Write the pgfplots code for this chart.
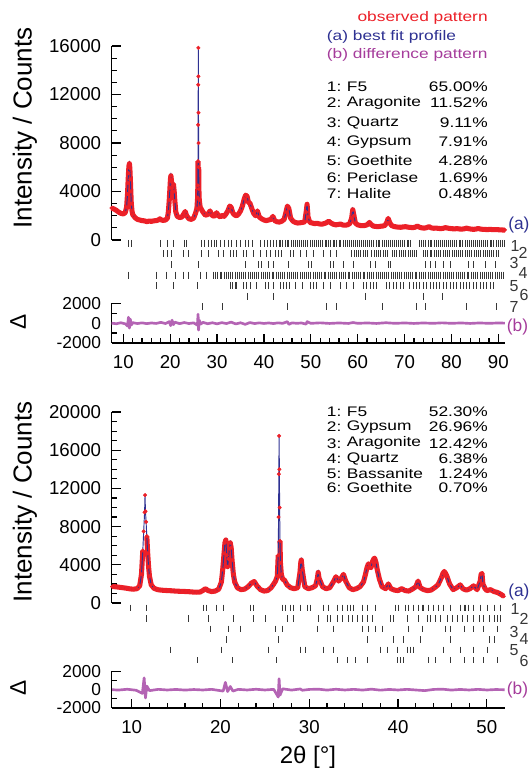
\documentclass[border=0pt]{standalone}
\usepackage{fontspec}
\setmainfont{Liberation Sans}
\usepackage{pgfplots}
\usepackage{pgfplotstable}
\pgfplotsset{compat=1.18}
\definecolor{obsred}{RGB}{236,32,40}
\definecolor{fitblue}{RGB}{46,49,146}
\definecolor{diffpurple}{RGB}{180,100,180}
\definecolor{labpurple}{RGB}{165,60,155}
\definecolor{reflgray}{RGB}{55,55,55}

% top sample: observed intensity
\pgfplotstableread{
x y
7.5 2640
8.0 2560
8.5 2450
9.0 2300
9.5 2200
10.0 2150
10.4 2250
10.7 2700
10.9 3800
11.0 4700
11.1 5500
11.2 6100
11.3 6300
11.4 5900
11.5 5000
11.6 4000
11.7 3000
11.85 2400
12.0 2100
12.5 1850
13.0 1700
13.5 1650
14.0 1600
14.5 1580
15.0 1520
15.5 1560
16.0 1540
16.5 1580
17.0 1600
17.5 1650
17.8 1750
18.1 1650
18.5 1620
19.0 1650
19.4 1800
19.6 2300
19.8 3300
19.95 4300
20.05 5000
20.15 5300
20.3 4800
20.45 4300
20.6 4500
20.7 4600
20.85 4000
21.0 3200
21.2 2300
21.5 1950
22.0 1850
22.5 1900
22.9 2150
23.2 2350
23.5 2000
24.0 1750
24.5 1700
25.0 1800
25.4 2200
25.7 2600
25.85 3500
25.9 4500
25.93 6500
25.96 9500
25.98 12800
26.0 15850
26.02 13500
26.04 10500
26.06 8000
26.08 6000
26.12 4200
26.2 3300
26.4 2700
26.7 2500
27.0 2300
27.5 2050
28.0 2100
28.5 2400
28.9 2050
29.3 1950
29.6 2050
29.9 2250
30.3 2000
30.7 1900
31.1 2050
31.5 1950
31.9 2150
32.3 2400
32.7 2800
33.0 2700
33.4 2200
33.8 2050
34.2 2000
34.6 2150
35.0 2400
35.4 2800
35.8 3400
36.1 3700
36.4 3600
36.7 3100
37.0 3050
37.4 2600
37.8 2200
38.2 2000
38.6 2400
39.0 1900
39.5 1750
40.0 1650
40.5 1600
41.0 1650
41.5 1700
41.9 1950
42.3 1600
42.8 1500
43.3 1480
43.8 1550
44.3 1700
44.7 2300
45.0 2800
45.3 2600
45.7 1800
46.2 1550
46.7 1450
47.2 1400
47.7 1420
48.2 1450
48.7 1500
49.0 2300
49.2 2950
49.4 1900
49.8 1450
50.3 1400
50.8 1350
51.3 1380
51.8 1330
52.3 1300
52.8 1350
53.3 1420
53.8 1550
54.3 1400
54.8 1300
55.3 1250
55.8 1280
56.3 1320
56.8 1240
57.3 1220
57.8 1250
58.3 1350
58.7 1800
58.95 2500
59.2 2000
59.5 1400
60.0 1250
60.5 1200
61.0 1180
61.5 1200
62.0 1250
62.5 1450
62.8 1300
63.3 1150
63.8 1120
64.3 1100
64.8 1130
65.3 1150
65.8 1200
66.2 1450
66.5 1780
66.8 1450
67.2 1200
67.7 1120
68.2 1080
68.7 1060
69.2 1050
69.7 1080
70.2 1100
70.7 1060
71.2 1040
71.7 1020
72.2 1050
72.7 1150
73.2 1050
73.7 1000
74.2 980
74.7 1020
75.2 1100
75.7 1000
76.2 970
76.7 980
77.2 960
77.7 940
78.2 960
78.7 1020
79.2 980
79.7 950
80.2 930
80.7 920
81.2 940
81.7 910
82.2 900
82.7 920
83.2 980
83.7 930
84.2 900
84.7 880
85.2 900
85.7 950
86.2 900
86.7 880
87.2 870
87.7 860
88.2 880
88.7 860
89.2 850
89.7 860
90.2 840
90.7 830
91.2 820
91.4 830
}\topobs

% top sample: observed minus calculated
\pgfplotstableread{
x y
7.5 0
8.5 -60
9.5 40
10.5 -80
10.9 -300
11.1 600
11.3 -500
11.5 400
11.7 -200
12.0 50
13 -40
14 30
15 -50
16 20
17 -30
18 80
19 -40
19.8 150
20.1 -250
20.4 300
20.7 -150
21.0 100
22 -50
23 60
24 -40
25 30
25.8 -200
25.95 900
26.05 -700
26.2 300
26.5 -100
27 80
28 -60
29 40
30 -70
31 50
32 -40
33 100
34 -80
35 40
36 -120
37 60
38 -40
39 30
40 -30
41 20
42 -40
43 30
44 -20
45 150
45.3 -120
46 30
47 -20
48 20
49 -100
49.2 150
50 -20
52 30
54 -30
56 20
58 -30
59 60
60 -20
62 20
64 -30
66 40
68 -20
70 20
72 -30
74 20
76 -20
78 30
80 -20
82 20
84 -30
86 20
88 -20
90 20
91.4 0
}\topdiff

% bottom sample: observed intensity
\pgfplotstableread{
x y
7.8 1720
8.2 1700
8.6 1650
9.0 1600
9.4 1550
9.8 1480
10.2 1450
10.6 1500
10.9 1800
11.1 3000
11.25 5500
11.35 7500
11.45 9500
11.5 11300
11.55 9600
11.62 8500
11.7 7000
11.8 5200
11.9 3800
12.0 2800
12.2 1900
12.5 1550
12.9 1400
13.3 1350
13.7 1320
14.1 1300
14.5 1280
14.9 1250
15.3 1230
15.7 1220
16.1 1200
16.5 1180
16.9 1150
17.3 1130
17.7 1150
18.0 1300
18.3 1500
18.6 1300
19.0 1200
19.4 1250
19.8 1450
20.1 2200
20.25 3500
20.4 5200
20.5 6300
20.6 6600
20.7 5000
20.8 3800
20.9 4600
21.0 5700
21.1 6300
21.2 5800
21.3 4500
21.45 3000
21.6 2200
21.9 1600
22.3 1400
22.7 1450
23.1 1700
23.5 2100
23.8 2250
24.1 1800
24.5 1400
24.9 1250
25.3 1300
25.7 1600
26.0 2000
26.2 2300
26.4 2800
26.5 5000
26.54 9000
26.57 13500
26.6 17500
26.63 14000
26.66 10000
26.7 6500
26.75 4200
26.85 3000
27.0 2500
27.2 2400
27.5 1900
27.9 1600
28.3 1500
28.7 1600
28.95 3200
29.05 4300
29.1 4500
29.2 3500
29.5 1700
29.9 1500
30.3 1600
30.7 1800
30.9 2500
31.0 3200
31.1 2600
31.5 1700
31.9 1500
32.3 1600
32.7 2200
33.0 2750
33.3 2300
33.6 2600
33.85 3000
34.1 2300
34.5 1600
34.9 1400
35.3 1500
35.7 1700
36.1 2200
36.3 2900
36.5 3700
36.65 4100
36.8 3800
36.95 3700
37.1 4300
37.25 4600
37.35 4700
37.5 4300
37.65 3500
37.9 2500
38.2 1700
38.6 1500
38.9 2000
39.2 1500
39.6 1350
40.0 1300
40.4 1500
40.8 1300
41.2 1250
41.6 1450
42.0 1700
42.25 2300
42.5 1600
42.9 1400
43.3 1300
43.7 1350
44.1 1600
44.5 1900
44.9 2700
45.05 3100
45.2 3300
45.35 3100
45.5 2800
45.8 2000
46.2 1400
46.6 1600
47.0 1900
47.3 1500
47.7 1350
48.1 1500
48.5 1800
48.9 1400
49.25 2300
49.35 3000
49.45 3100
49.55 2000
49.8 1500
50.0 1300
50.4 1400
50.8 1200
51.2 1100
51.6 900
51.9 700
}\botobs

% bottom sample: observed minus calculated
\pgfplotstableread{
x y
7.8 0
8.5 -40
9.5 50
10.5 -60
11.2 -400
11.4 1300
11.55 -900
11.7 400
12.0 -100
13 40
14 -30
15 30
16 -40
17 20
18 -30
19 40
20.3 -150
20.55 800
20.8 -200
21.1 350
21.4 -150
22 40
23 -30
24 50
25 -30
26 40
26.5 -800
26.6 1200
26.7 -600
27 100
28 -40
29 80
29.2 -60
30 30
31 60
32 -40
33 50
34 -30
35 40
36 -40
37 60
38 -50
39 30
40 -30
41 40
42 -30
43 -100
44 30
45 60
46 -40
47 30
48 -30
49 40
50 -30
51 20
52 0
}\botdiff

\pgfplotsset{
  xrd/.style={scale only axis, width=295pt, anchor=south west, clip=false,
    axis line style={line width=1.1pt},
    every tick/.style={black, line width=0.9pt},
    major tick length=7pt, minor tick length=4pt, tick align=inside,
    /pgf/number format/assume math mode=true,
    /pgf/number format/1000 sep={},
    scaled ticks=false,
    tick label style={font=\fontsize{14}{16}\selectfont},
    yticklabel style={xshift=-4.5pt}},
  mainpanel/.style={xrd, axis y line*=left, axis x line=none, ymin=0,
    minor y tick num=3},
  diffpanel/.style={xrd, axis y line*=left, axis x line*=bottom,
    ymin=-2000, ymax=2000, ytick={-2000,0,2000}, minor y tick num=1,
    minor x tick num=4,
    yticklabel style={font=\fontsize{13}{15}\selectfont},
    xticklabel style={yshift=-6pt}},
  reflpanel/.style={scale only axis, width=295pt, anchor=south west,
    hide axis, clip=false, y dir=reverse, ymin=0},
  refl/.style={only marks, mark=|, mark size=2.6pt, reflgray,
    mark options={line width=0.55pt}},
}

\begin{document}
\begin{tikzpicture}
\useasboundingbox (0,0) rectangle (397.5pt,-576.75pt);

% ---------------- top sample ----------------
\begin{axis}[mainpanel, at={(83.8pt,-180pt)}, height=145.5pt,
  xmin=7.53, xmax=91.43, ymax=16000, ytick={0,4000,...,16000}]
\addplot[obsred, line width=3.8pt, line join=round,
  restrict y to domain=-1000:7000] table {\topobs};
\addplot[obsred, only marks, mark=*, mark size=1.3pt] table {\topobs};
\addplot[fitblue, line width=0.7pt] table {\topobs};
\end{axis}

\begin{axis}[reflpanel, at={(83.8pt,-238.1pt)}, height=63.6pt,
  xmin=7.53, xmax=91.43, ymax=8]
\addplot[refl] coordinates {
(11.07,1)(11.64,1)(17.82,1)(19.39,1)(20.67,1)(22.94,1)(23.37,1)(26.71,1)(27.21,1)
(28.13,1)(28.84,1)(29.34,1)(29.77,1)(30.62,1)(31.48,1)(32.4,1)(33.11,1)(34.18,1)
(34.89,1)(35.96,1)(36.67,1)(37.59,1)(39.16,1)(40.0,1)(40.72,1)(41.43,1)(42.0,1)
(42.7,1)(43.2,1)(43.6,1)(44.0,1)(44.5,1)(45.0,1)(45.3,1)(45.8,1)(46.2,1)(46.7,1)
(47.1,1)(47.6,1)(48.0,1)(48.4,1)(48.9,1)(49.3,1)(49.9,1)(50.3,1)(50.7,1)(51.2,1)
(51.6,1)(52.1,1)(52.5,1)(53.0,1)(53.3,1)(53.8,1)(54.2,1)(54.7,1)(55.1,1)(55.5,1)
(56.0,1)(56.4,1)(56.9,1)(57.3,1)(57.8,1)(58.2,1)(58.6,1)(59.1,1)(59.5,1)(60.0,1)
(60.3,1)(60.8,1)(61.2,1)(61.7,1)(62.1,1)(62.5,1)(63.0,1)(63.4,1)(63.9,1)(64.3,1)
(64.7,1)(65.2,1)(65.6,1)(66.1,1)(66.5,1)(66.9,1)(67.4,1)(67.8,1)(68.3,1)(68.7,1)
(69.1,1)(69.6,1)(70.0,1)(70.5,1)(70.9,1)(71.3,1)(73.2,1)(73.6,1)(74.1,1)(74.5,1)
(75.0,1)(75.4,1)(75.8,1)(76.3,1)(76.7,1)(77.2,1)(77.6,1)(78.0,1)(78.5,1)(78.9,1)
(79.4,1)(79.8,1)(80.2,1)(80.7,1)(81.1,1)(81.6,1)(82.0,1)(82.4,1)(82.9,1)(83.3,1)
(83.8,1)(84.2,1)(84.6,1)(85.1,1)(85.5,1)(86.0,1)(86.4,1)(86.8,1)(87.3,1)(87.7,1)
(88.2,1)(88.6,1)(89.0,1)(89.5,1)(89.9,1)(90.4,1)(90.8,1)(91.2,1)
};
\addplot[refl] coordinates {
(18.53,2)(19.39,2)(20.31,2)(22.8,2)(23.87,2)(26.71,2)(28.13,2)(30.27,2)(31.33,2)
(32.76,2)(33.47,2)(34.18,2)(35.6,2)(36.31,2)(37.73,2)(39.16,2)(40.58,2)(41.29,2)
(42.36,2)(43.07,2)(43.78,2)(45.56,2)(46.27,2)(47.69,2)(49.11,2)(50.53,2)(52.67,2)
(54.09,2)(55.51,2)(58.7,2)(59.2,2)(59.7,2)(60.1,2)(60.6,2)(61.1,2)(61.6,2)(62.0,2)
(63.0,2)(63.5,2)(64.0,2)(64.4,2)(64.9,2)(65.4,2)(65.8,2)(66.3,2)(67.4,2)(67.9,2)
(68.3,2)(68.8,2)(69.3,2)(69.7,2)(70.2,2)(70.7,2)(71.2,2)(71.6,2)(72.1,2)(72.5,2)
(74.0,2)(74.4,2)(74.9,2)(75.4,2)(75.8,2)(76.3,2)(76.8,2)(77.3,2)(77.7,2)(78.2,2)
(78.7,2)(79.1,2)(79.6,2)(80.1,2)(80.6,2)(81.0,2)(81.5,2)(82.0,2)(82.4,2)(82.9,2)
(83.4,2)(83.9,2)(84.3,2)(84.8,2)(85.3,2)(85.7,2)(86.2,2)(86.7,2)(87.2,2)(87.6,2)
(88.1,2)(88.6,2)(89.0,2)(89.5,2)(90.0,2)
};
\addplot[refl] coordinates {
(20.31,3)(26.0,3)(35.96,3)(38.8,3)(39.51,3)(40.93,3)(42.0,3)(45.2,3)(49.47,3)
(50.18,3)(54.09,3)(54.8,3)(56.93,3)(59.07,3)(62.62,3)(63.69,3)(66.53,3)(66.89,3)
(74.36,3)(75.42,3)(76.49,3)(78.27,3)(79.69,3)(83.6,3)(84.67,3)(87.16,3)(89.29,3)
};
\addplot[refl] coordinates {
(11.07,4)(17.11,4)(19.24,4)(21.02,4)(22.8,4)(23.87,4)(26.36,4)(27.78,4)(29.2,4)
(29.6,4)(30.1,4)(30.6,4)(31.0,4)(31.5,4)(32.0,4)(32.4,4)(32.9,4)(33.3,4)(33.8,4)
(34.3,4)(34.7,4)(35.2,4)(35.7,4)(36.1,4)(36.6,4)(37.0,4)(37.5,4)(38.0,4)(38.4,4)
(38.9,4)(39.4,4)(39.8,4)(40.3,4)(40.7,4)(41.2,4)(41.7,4)(42.1,4)(42.6,4)(43.1,4)
(43.5,4)(44.0,4)(44.4,4)(44.9,4)(45.4,4)(45.8,4)(46.3,4)(46.8,4)(47.2,4)(47.7,4)
(48.1,4)(48.6,4)(49.1,4)(49.5,4)(50.0,4)(50.5,4)(50.9,4)(51.4,4)(51.8,4)(52.3,4)
(52.8,4)(53.2,4)(53.7,4)(54.2,4)(54.6,4)(55.1,4)(55.5,4)(56.0,4)(56.5,4)(56.9,4)
(57.4,4)(57.9,4)(58.3,4)(58.8,4)(59.2,4)(59.7,4)(60.2,4)(60.6,4)(61.1,4)(61.5,4)
(62.0,4)(62.5,4)(62.9,4)(63.4,4)(63.9,4)(64.3,4)(64.8,4)(65.2,4)(65.7,4)(66.2,4)
(66.6,4)(67.1,4)(67.6,4)(68.0,4)(68.5,4)(68.9,4)(69.4,4)(69.9,4)(70.3,4)(70.8,4)
(71.3,4)(71.7,4)(72.2,4)(72.6,4)(73.1,4)(73.6,4)(74.0,4)(74.5,4)(75.0,4)(75.4,4)
(75.9,4)(76.3,4)(76.8,4)(77.3,4)(77.7,4)(78.2,4)(78.7,4)(79.1,4)(79.6,4)(80.0,4)
(80.5,4)(81.0,4)(81.4,4)(81.9,4)(82.4,4)(82.8,4)(83.3,4)(83.7,4)(84.2,4)(84.7,4)
(85.1,4)(85.6,4)(86.1,4)(86.5,4)(87.0,4)(87.4,4)(87.9,4)(88.4,4)(88.8,4)(89.3,4)
(89.8,4)(90.2,4)(90.7,4)(91.1,4)
};
\addplot[refl] coordinates {
(17.11,5)(20.67,5)(25.79,5)(32.76,5)(33.3,5)(33.8,5)(34.18,5)(35.6,5)(36.3,5)
(37.0,5)(38.4,5)(40.2,5)(40.9,5)(42.0,5)(43.4,5)(44.1,5)(44.8,5)(45.5,5)(46.6,5)
(48.1,5)(49.8,5)(50.5,5)(51.2,5)(52.6,5)(54.1,5)(56.2,5)(57.6,5)(59.1,5)(61.2,5)
(61.9,5)(62.6,5)(63.3,5)(64.0,5)(66.1,5)(66.8,5)(67.5,5)(68.2,5)(69.0,5)(69.7,5)
(71.1,5)(71.8,5)(72.5,5)(73.2,5)(74.0,5)(74.7,5)(75.4,5)(76.1,5)(76.8,5)(77.5,5)
(78.2,5)(78.9,5)(79.7,5)(80.4,5)(81.1,5)(81.8,5)(82.5,5)(83.2,5)(83.9,5)(84.6,5)
(85.4,5)(86.1,5)(86.8,5)(87.5,5)(88.2,5)(89.0,5)
};
\addplot[refl] coordinates {
(36.45,6)(42.0,6)(61.56,6)(74.0,6)(78.12,6)
};
\addplot[refl] coordinates {
(26.92,7)(31.19,7)(44.99,7)(53.24,7)(55.51,7)(65.33,7)(72.58,7)(74.36,7)(83.1,7)
(89.64,7)
};
\end{axis}

\begin{axis}[diffpanel, at={(83.8pt,-257.25pt)}, height=29.8pt,
  xmin=7.53, xmax=91.43, xtick={10,20,...,90}]
\addplot[diffpurple, line width=2pt, line join=round] table {\topdiff};
\end{axis}

% ---------------- bottom sample ----------------
\begin{axis}[mainpanel, at={(83.8pt,-452.25pt)}, height=143.25pt,
  xmin=7.75, xmax=52.05, ymax=20000, ytick={0,4000,...,20000}]
\addplot[obsred, line width=3.8pt, line join=round,
  restrict y to domain=-1000:7000] table {\botobs};
\addplot[obsred, only marks, mark=*, mark size=1.3pt] table {\botobs};
\addplot[fitblue, line width=0.7pt] table {\botobs};
\end{axis}

\begin{axis}[reflpanel, at={(83.8pt,-503pt)}, height=54.9pt,
  xmin=7.75, xmax=52.05, ymax=7]
\addplot[refl, mark size=2.4pt] coordinates {
(9.81,1)(11.62,1)(18.08,1)(18.46,1)(19.59,1)(20.34,1)(23.35,1)(23.72,1)(26.92,1)
(27.29,1)(27.86,1)(28.23,1)(28.98,1)(29.74,1)(30.11,1)(31.62,1)(32.18,1)(33.12,1)
(33.68,1)(34.25,1)(34.62,1)(35.0,1)(35.94,1)(36.5,1)(37.44,1)(39.7,1)(40.08,1)
(40.83,1)(41.2,1)(41.77,1)(42.33,1)(42.71,1)(42.89,1)(43.46,1)(44.02,1)(44.59,1)
(45.15,1)(45.9,1)(47.03,1)(47.41,1)(47.59,1)(47.97,1)(48.53,1)(49.29,1)(50.04,1)
(50.79,1)(51.54,1)
};
\addplot[refl, mark size=2.4pt] coordinates {
(11.62,2)(16.39,2)(18.65,2)(21.47,2)(23.72,2)(25.04,2)(27.48,2)(28.23,2)(31.05,2)
(31.99,2)(32.37,2)(33.12,2)(33.68,2)(34.44,2)(34.81,2)(35.38,2)(35.94,2)(36.5,2)
(37.07,2)(39.14,2)(39.51,2)(41.02,2)(42.33,2)(43.27,2)(43.65,2)(44.21,2)(44.77,2)
(45.53,2)(46.09,2)(46.65,2)(47.22,2)(47.78,2)(48.53,2)(49.1,2)(49.66,2)(50.23,2)
(50.79,2)(51.17,2)(51.54,2)
};
\addplot[refl, mark size=2.4pt] coordinates {
(18.83,3)(20.9,3)(22.22,3)(26.17,3)(26.92,3)(30.86,3)(32.74,3)(35.94,3)(36.69,3)
(37.44,3)(38.2,3)(41.2,3)(42.71,3)(45.34,3)(45.9,3)(47.41,3)(48.53,3)(49.66,3)
(51.17,3)
};
\addplot[refl, mark size=2.4pt] coordinates {
(20.71,4)(26.54,4)(36.5,4)(39.51,4)(40.64,4)(42.52,4)(45.9,4)(50.23,4)(50.79,4)
};
\addplot[refl, mark size=2.4pt] coordinates {
(14.32,5)(20.15,5)(25.41,5)(28.98,5)(29.55,5)(31.62,5)(32.74,5)(38.01,5)(38.76,5)
(39.89,5)(41.02,5)(41.39,5)(41.77,5)(45.15,5)(47.03,5)(48.53,5)(50.04,5)
};
\addplot[refl, mark size=2.4pt] coordinates {
(17.41,6)(21.28,6)(26.28,6)(33.12,6)(34.25,6)(35.19,6)(36.5,6)(39.89,6)(40.26,6)
(40.64,6)(43.46,6)(44.21,6)(45.9,6)(47.41,6)(48.53,6)(49.66,6)(51.17,6)
};
\end{axis}

\begin{axis}[diffpanel, at={(83.8pt,-531pt)}, height=27.45pt,
  xmin=7.75, xmax=52.05, xtick={10,20,...,50}]
\addplot[diffpurple, line width=2pt, line join=round] table {\botdiff};
\end{axis}

% ---------------- labels ----------------
\node[rotate=90, font=\fontsize{19.5}{22}\selectfont] at (18.75pt,-96pt) {Intensity / Counts};
\node[rotate=90, font=\fontsize{19.5}{22}\selectfont] at (18.75pt,-376.5pt) {Intensity / Counts};
\node[rotate=90, font=\fontsize{17}{19}\selectfont] at (13.5pt,-241.5pt) {Δ};
\node[rotate=90, font=\fontsize{17}{19}\selectfont] at (13.5pt,-516pt) {Δ};
\node[font=\fontsize{18}{20}\selectfont] at (231pt,-567.75pt) {2θ [°]};

\begin{scope}[every node/.style={inner sep=0pt, yscale=0.8,
    font=\fontsize{13}{15}\selectfont}]
\node[anchor=west, text=obsred] at (268pt,-13.75pt) {observed pattern};
\node[anchor=west, text=fitblue] at (245pt,-27.5pt) {(a) best fit profile};
\node[anchor=west, text=labpurple] at (245pt,-41.25pt) {(b) difference pattern};

\node[anchor=west] at (245pt,-65.3pt) {1:};  \node[anchor=west] at (260pt,-65.3pt) {F5};        \node[anchor=east] at (366pt,-65.3pt) {65.00\%};
\node[anchor=west] at (245pt,-77.3pt) {2:};  \node[anchor=west] at (260pt,-77.3pt) {Aragonite}; \node[anchor=east] at (366pt,-77.3pt) {11.52\%};
\node[anchor=west] at (245pt,-92.3pt) {3:};  \node[anchor=west] at (260pt,-92.3pt) {Quartz};    \node[anchor=east] at (366pt,-92.3pt) {9.11\%};
\node[anchor=west] at (245pt,-106.2pt) {4:}; \node[anchor=west] at (260pt,-106.2pt) {Gypsum};   \node[anchor=east] at (366pt,-106.2pt) {7.91\%};
\node[anchor=west] at (245pt,-120.5pt) {5:}; \node[anchor=west] at (260pt,-120.5pt) {Goethite}; \node[anchor=east] at (366pt,-120.5pt) {4.28\%};
\node[anchor=west] at (245pt,-133.3pt) {6:}; \node[anchor=west] at (260pt,-133.3pt) {Periclase};\node[anchor=east] at (366pt,-133.3pt) {1.69\%};
\node[anchor=west] at (245pt,-145.5pt) {7:}; \node[anchor=west] at (260pt,-145.5pt) {Halite};   \node[anchor=east] at (366pt,-145.5pt) {0.48\%};

\node[anchor=west] at (245pt,-308.5pt) {1:}; \node[anchor=west] at (260pt,-308.5pt) {F5};        \node[anchor=east] at (366pt,-308.5pt) {52.30\%};
\node[anchor=west] at (245pt,-320pt) {2:};   \node[anchor=west] at (260pt,-320pt) {Gypsum};       \node[anchor=east] at (366pt,-320pt) {26.96\%};
\node[anchor=west] at (245pt,-332.5pt) {3:}; \node[anchor=west] at (260pt,-332.5pt) {Aragonite}; \node[anchor=east] at (366pt,-332.5pt) {12.42\%};
\node[anchor=west] at (245pt,-344pt) {4:};   \node[anchor=west] at (260pt,-344pt) {Quartz};       \node[anchor=east] at (366pt,-344pt) {6.38\%};
\node[anchor=west] at (245pt,-355pt) {5:};   \node[anchor=west] at (260pt,-355pt) {Bassanite};    \node[anchor=east] at (366pt,-355pt) {1.24\%};
\node[anchor=west] at (245pt,-366pt) {6:};   \node[anchor=west] at (260pt,-366pt) {Goethite};     \node[anchor=east] at (366pt,-366pt) {0.70\%};
\end{scope}

\begin{scope}[every node/.style={inner sep=0pt, font=\fontsize{13}{15}\selectfont}]
\node[anchor=west, text=fitblue] at (381pt,-168.5pt) {(a)};
\node[anchor=west, text=labpurple] at (380pt,-245pt) {(b)};
\node[anchor=west, text=fitblue] at (381pt,-444pt) {(a)};
\node[anchor=west, text=labpurple] at (380pt,-517.5pt) {(b)};
\end{scope}

\begin{scope}[every node/.style={inner sep=0pt, font=\fontsize{12}{14}\selectfont, text=reflgray}]
\node at (386.25pt,-184.25pt) {1};
\node at (392.25pt,-190pt) {2};
\node at (385.5pt,-197pt) {3};
\node at (392.25pt,-204.5pt) {4};
\node at (385.5pt,-214.5pt) {5};
\node at (393pt,-221.25pt) {6};
\node at (385.5pt,-230.5pt) {7};
\node at (386.25pt,-457pt) {1};
\node at (393pt,-464pt) {2};
\node at (385.5pt,-474pt) {3};
\node at (393pt,-479.25pt) {4};
\node at (385.5pt,-487.5pt) {5};
\node at (393pt,-495.5pt) {6};
\end{scope}
\end{tikzpicture}
\end{document}
